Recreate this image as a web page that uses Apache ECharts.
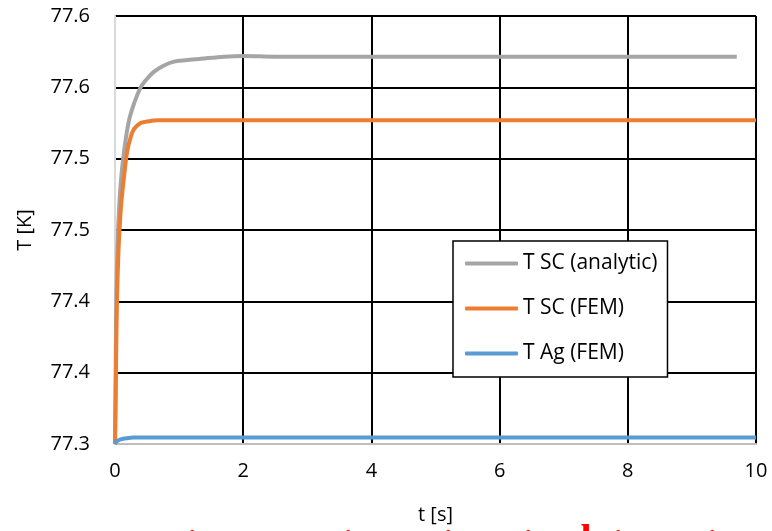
<!DOCTYPE html>
<html>
<head>
<meta charset="utf-8">
<script src="https://cdn.jsdelivr.net/npm/echarts@6/dist/echarts.min.js"></script>
<style>
html,body{margin:0;padding:0;background:#fff;}
#main{width:772px;height:531px;}
</style>
</head>
<body>
<div id="main"></div>
<script>
// ---- data ----
var seriesNames = ['T SC (analytic)', 'T SC (FEM)', 'T Ag (FEM)'];
var tAnalytic = [0, 0.01, 0.02, 0.04, 0.07, 0.1, 0.12, 0.15, 0.19, 0.23, 0.3, 0.4, 0.5, 0.61, 0.75, 0.92, 1.1, 1.34, 1.7, 2.0, 2.5, 3, 4, 5, 6, 7, 8, 9, 9.7];
var scAnalytic = [77.300, 77.350, 77.400, 77.440, 77.470, 77.488, 77.497, 77.508, 77.520, 77.529, 77.539, 77.550, 77.556, 77.561, 77.565, 77.568, 77.569, 77.570, 77.5715, 77.572, 77.5715, 77.5715, 77.5715, 77.5715, 77.5715, 77.5715, 77.5715, 77.5715, 77.5715];
var tFem = [0, 0.01, 0.02, 0.03, 0.05, 0.07, 0.1, 0.14, 0.19, 0.25, 0.3, 0.4, 0.5, 0.66, 1, 2, 4, 6, 8, 10];
var scFem = [77.300, 77.330, 77.370, 77.400, 77.430, 77.450, 77.470, 77.487, 77.505, 77.516, 77.521, 77.525, 77.526, 77.527, 77.527, 77.527, 77.527, 77.527, 77.527, 77.527];
var tAg = [0, 0.03, 0.09, 0.18, 0.29, 0.5, 1, 2, 4, 6, 8, 10];
var agFem = [77.300, 77.302, 77.3032, 77.304, 77.3045, 77.3045, 77.3045, 77.3045, 77.3045, 77.3045, 77.3045, 77.3045];
var yTickLabels = ['77.3', '77.4', '77.4', '77.5', '77.5', '77.6', '77.6'];
var xTickLabels = ['0', '2', '4', '6', '8', '10'];
var colors = ['#A5A5A5', '#ED7D31', '#5B9BD5'];
// cut-off red caption fragments at the bottom edge of the picture
var captionLetters = ['i', 'i', 'i', 'I', 'i', 'l', 'i', 'i'];

function pairs(xs, ys) { return xs.map(function (x, i) { return [x, ys[i]]; }); }

var FONT = 'Open Sans';
var chart = echarts.init(document.getElementById('main'));

var captionX = [192, 348, 448, 495, 528, 586, 618, 712];
var captionY = [548, 548, 548, 547, 548, 542, 548, 548];
var captionGraphics = captionLetters.map(function (ch, i) {
  return {
    type: 'text', x: captionX[i], y: captionY[i], z: 100,
    style: { text: ch, fill: '#FF0000', fontFamily: 'Liberation Serif', fontWeight: 'bold', fontSize: 40,
      align: 'center', verticalAlign: 'middle' }
  };
});

var option = {
  animation: false,
  backgroundColor: '#ffffff',
  color: colors,
  graphic: captionGraphics,
  grid: { left: 115, right: 16, top: 16, bottom: 87, containLabel: false },
  xAxis: {
    type: 'value', min: 0, max: 10, interval: 2,
    name: 't [s]', nameLocation: 'middle', nameGap: 61,
    nameTextStyle: { fontFamily: FONT, fontSize: 20, color: '#000' },
    axisLine: { show: true, lineStyle: { color: '#BFBFBF', width: 2 } },
    axisTick: { show: false },
    axisLabel: { margin: 17, fontFamily: FONT, fontSize: 20, color: '#000',
      formatter: function (v) { return xTickLabels[Math.round(v / 2)]; } },
    splitLine: { show: true, showMinLine: false, lineStyle: { color: '#000', width: 2 } }
  },
  yAxis: {
    type: 'value', min: 77.3, max: 77.6, interval: 0.05,
    name: 'T [K]', nameLocation: 'middle', nameGap: 80, nameRotate: 90,
    nameTextStyle: { fontFamily: FONT, fontSize: 20, color: '#000' },
    axisLine: { show: true, lineStyle: { color: '#D9D9D9', width: 2 } },
    axisTick: { show: false },
    axisLabel: { margin: 25, fontFamily: FONT, fontSize: 20, color: '#000',
      formatter: function (v) { return yTickLabels[Math.round((v - 77.3) / 0.05)]; } },
    splitLine: { show: true, showMinLine: false, lineStyle: { color: '#000', width: 2 } }
  },
  legend: {
    orient: 'vertical', left: 453, top: 241,
    backgroundColor: '#fff', borderColor: '#000', borderWidth: 1.5, borderRadius: 0,
    padding: [11, 10, 12, 12], itemGap: 22, itemWidth: 53, itemHeight: 4,
    icon: 'roundRect',
    textStyle: { fontFamily: FONT, fontSize: 21, color: '#000', lineHeight: 23 },
    data: seriesNames
  },
  series: [
    { name: seriesNames[0], type: 'line', data: pairs(tAnalytic, scAnalytic), smooth: 0.3, showSymbol: false, symbol: 'none',
      lineStyle: { width: 4, color: colors[0] }, z: 2 },
    { name: seriesNames[1], type: 'line', data: pairs(tFem, scFem), smooth: 0.3, showSymbol: false, symbol: 'none',
      lineStyle: { width: 4, color: colors[1] }, z: 3 },
    { name: seriesNames[2], type: 'line', data: pairs(tAg, agFem), smooth: 0.3, showSymbol: false, symbol: 'none',
      lineStyle: { width: 4, color: colors[2] }, z: 4 }
  ]
};
chart.setOption(option);
</script>
</body>
</html>
